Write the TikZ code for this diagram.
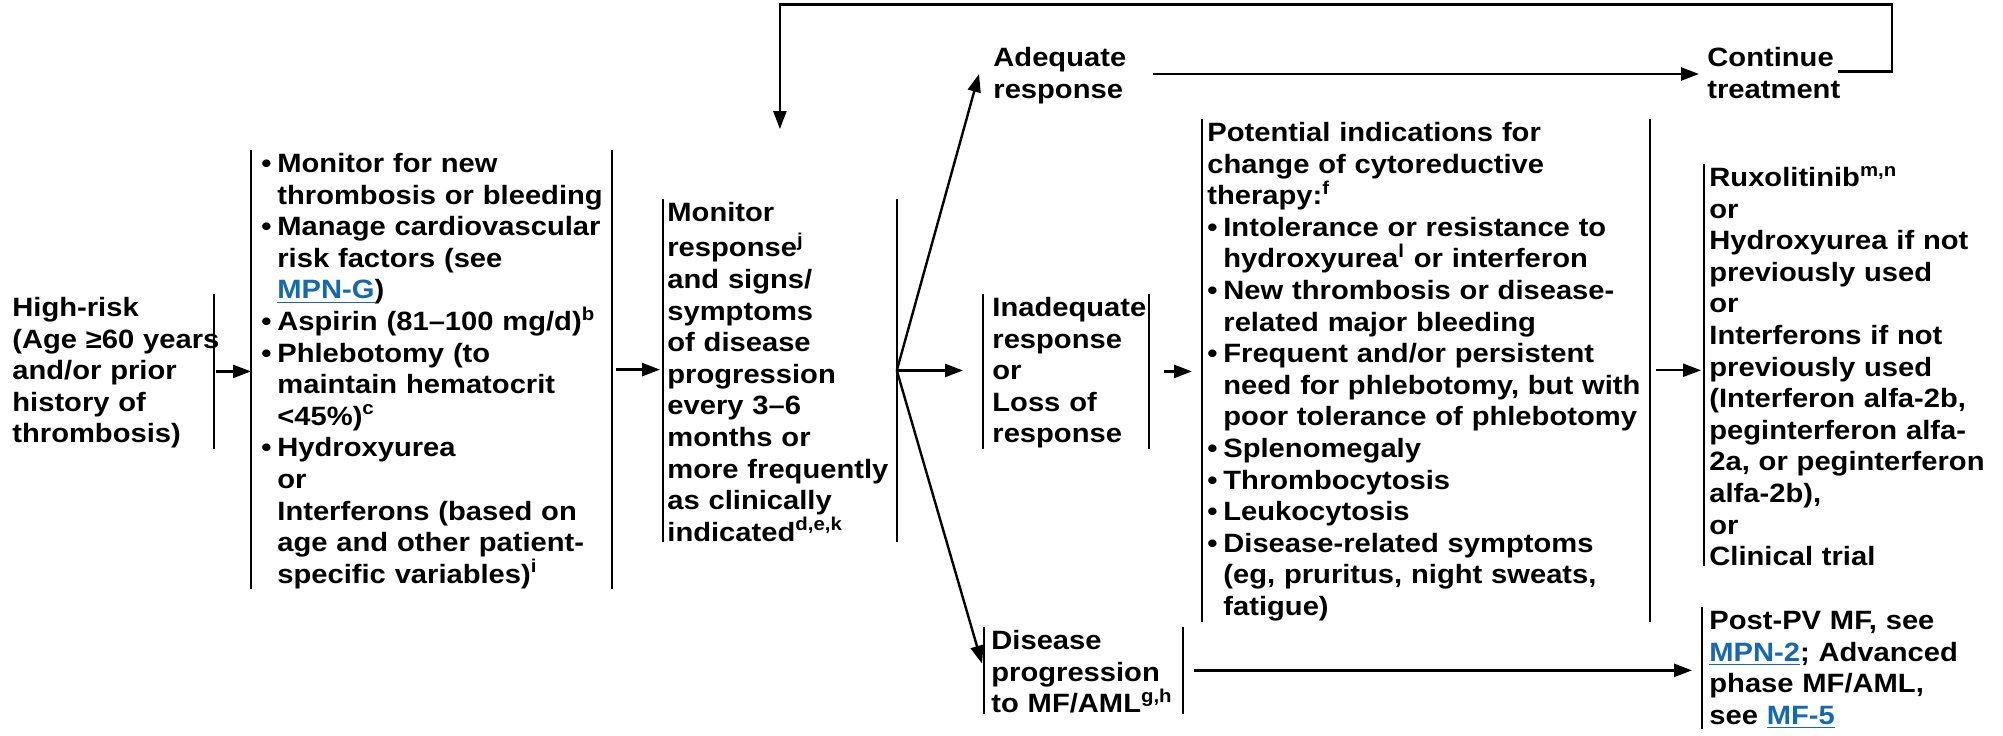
\documentclass[tikz,border=0pt]{standalone}
\usepackage{fontspec}
\setmainfont{Liberation Sans}[FakeStretch=1.1]
\usetikzlibrary{arrows.meta,scopes}
\definecolor{nccnLink}{RGB}{20,105,175}
\newcommand{\bul}{\makebox[8pt][l]{\textbullet}}
\newcommand{\ind}{\hspace*{8pt}}
\newcommand{\lnk}[1]{\textcolor{nccnLink}{\underline{#1}}}
\hyphenpenalty=10000
\exhyphenpenalty=10000

\begin{document}
\begin{tikzpicture}[x=0.5pt, y=-0.5pt]
    \useasboundingbox (0,0) rectangle (2003,735);
    {[every node/.style={anchor=north west, inner ysep=0pt, align=left, font=\bfseries\fontsize{13.25}{15.8}\selectfont, execute at begin node=\strut}]
    \node[inner xsep=0pt, text width=100.5pt] (risk) at (12,294) {High-risk\\\mbox{(Age ≥60 years}\\and/or prior\\history of\\thrombosis)};
    \node[inner xsep=5pt, text width=170pt] (mgmt) at (251,150) {\bul Monitor for new\\\ind\mbox{thrombosis or bleeding}\\\bul\mbox{Manage cardiovascular}\\\ind risk factors (see\\\ind\lnk{MPN-G})\\\bul Aspirin (81–100 mg/d)\textsuperscript{b}\\\bul Phlebotomy (to\\\ind maintain hematocrit\\\ind <45\%)\textsuperscript{c}\\\bul Hydroxyurea\\\ind or\\\ind Interferons (based on\\\ind age and other patient-\\\ind specific variables)\textsuperscript{i}};
    \node[inner xsep=2pt, text width=112.5pt] (monitor) at (663,199) {Monitor\\response\textsuperscript{j}\\and signs/\\symptoms\\of disease\\progression\\every 3–6\\months or\\\mbox{more frequently}\\as clinically\\indicated\textsuperscript{d,e,k}};
    \node[inner xsep=7pt, text width=72.5pt] (adeq) at (979,44) {Adequate\\response};
    \node[inner xsep=4pt, text width=61pt] (cont) at (1699,44) {Continue\\treatment};
    \node[inner xsep=4.5pt, text width=73.5pt] (inad) at (983,294) {Inadequate\\response\\or\\Loss of\\response};
    \node[inner xsep=3.5pt, text width=92pt] (prog) at (984,627) {Disease\\progression\\to MF/AML\textsuperscript{g,h}};
    \node[inner xsep=2.5pt, text width=218.5pt] (pot) at (1202,119) {Potential indications for\\change of cytoreductive\\therapy:\textsuperscript{f}\\\bul Intolerance or resistance to\\\ind hydroxyurea\textsuperscript{l} or interferon\\\bul New thrombosis or disease-\\\ind related major bleeding\\\bul Frequent and/or persistent\\\ind\mbox{need for phlebotomy, but with}\\\ind\mbox{poor tolerance of phlebotomy}\\\bul Splenomegaly\\\bul Thrombocytosis\\\bul Leukocytosis\\\bul Disease-related symptoms\\\ind (eg, pruritus, night sweats,\\\ind fatigue)};
    \node[inner xsep=2.5pt, text width=145pt] (rux) at (1704,164) {Ruxolitinib\textsuperscript{m,n}\\or\\Hydroxyurea if not\\previously used\\or\\Interferons if not\\previously used\\(Interferon alfa-2b,\\peginterferon alfa-\\2a, or peginterferon\\alfa-2b),\\or\\Clinical trial};
    \node[inner xsep=3.5pt, text width=142pt] (post) at (1702,607) {Post-PV MF, see\\\lnk{MPN-2}; Advanced\\phase MF/AML,\\see \lnk{MF-5}};
    }
    {[line width=1.1pt]
      \draw (risk.north east) -- (risk.south east);
      \draw (mgmt.north west) -- (mgmt.south west);
      \draw (mgmt.north east) -- (mgmt.south east);
      \draw (monitor.north west) -- (monitor.south west);
      \draw (monitor.north east) -- (monitor.south east);
      \draw (inad.north west) -- (inad.south west);
      \draw (inad.north east) -- (inad.south east);
      \draw (prog.north west) -- (prog.south west);
      \draw (prog.north east) -- (prog.south east);
      \draw (pot.north west) -- (pot.south west);
      \draw (pot.north east) -- (pot.south east);
      \draw (rux.north west) -- (rux.south west);
      \draw (post.north west) -- (post.south west);
    }
    {[line width=1.2pt, -{Triangle[length=9pt,width=6.5pt]}]
      \draw[shorten <=1pt] (risk.east) -- (risk.east -| mgmt.west);
      \draw[shorten <=2pt, shorten >=1.5pt] (mgmt.east) -- (mgmt.east -| monitor.west);
      \draw (monitor.east) -- (adeq.west);
      \draw[shorten >=10pt] (monitor.east) -- (monitor.east -| inad.west);
      \draw[shorten >=3.5pt] (monitor.east) -- (prog.west);
      \draw (adeq.east) -- (adeq.east -| cont.west);
      \draw[shorten >=35pt] (cont.east) -- ++(54,0) -- ++(0,-67) -| (monitor.north);
      \draw[shorten <=7.5pt, shorten >=5pt] (inad.east) -- (inad.east -| pot.west);
      \draw[shorten <=3pt, shorten >=1.5pt] (pot.east) -- (pot.east -| rux.west);
      \draw[shorten <=5.5pt, shorten >=5pt] (prog.east) -- (prog.east -| post.west);
    }
\end{tikzpicture}
\end{document}
